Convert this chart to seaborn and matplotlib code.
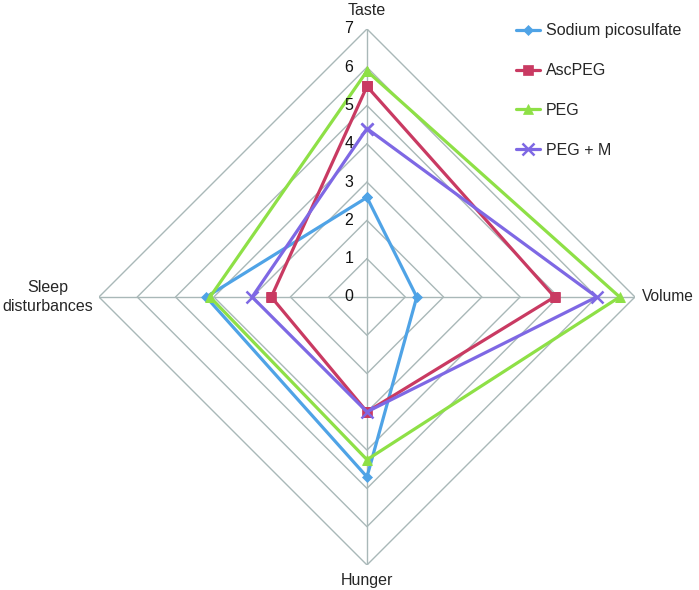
import numpy as np
import pandas as pd
import matplotlib
matplotlib.use("Agg")
import matplotlib.pyplot as plt
import seaborn as sns

categories = ["Taste", "Volume", "Hunger", "Sleep\ndisturbances"]
series_names = ["Sodium picosulfate", "AscPEG", "PEG", "PEG + M"]
sodium_picosulfate = [2.6, 1.3, 4.7, 4.2]
ascpeg = [5.5, 4.9, 3.0, 2.5]
peg = [5.9, 6.6, 4.25, 4.1]
peg_m = [4.4, 6.0, 3.0, 3.0]
r_ticks = [0, 1, 2, 3, 4, 5, 6, 7]

colors = ["#4FA3E6", "#C93A62", "#8EE046", "#7E68E4"]
markers = ["D", "s", "^", "x"]
msizes = [5.5, 7.5, 7, 8]

sns.set_theme(style="white")
plt.rcParams["font.family"] = ["Liberation Sans", "DejaVu Sans"]

n = len(categories)
angles = list(np.linspace(0, 2 * np.pi, n, endpoint=False))
angles_closed = angles + [2 * np.pi]

rows = []
for name, vals in zip(series_names, [sodium_picosulfate, ascpeg, peg, peg_m]):
    for a, v in zip(angles_closed, vals + vals[:1]):
        rows.append({"theta": a, "value": v, "series": name})
df = pd.DataFrame(rows)

fig = plt.figure(figsize=(6.99, 5.90), dpi=100)
ax = fig.add_axes([0.1416, 0.0424, 0.7668, 0.9085], projection="polar")
ax.set_theta_offset(np.pi / 2)
ax.set_theta_direction(-1)
ax.grid(False)
ax.spines["polar"].set_visible(False)

grid_color = "#A9B8B8"
for r in r_ticks[1:]:
    ax.plot(angles_closed, [r] * len(angles_closed), color=grid_color, lw=1.0, zorder=1)
for a in angles:
    ax.plot([a, a], [0, 7], color=grid_color, lw=1.0, zorder=1)

handles = []
for name, c, m, ms in zip(series_names, colors, markers, msizes):
    sub = df[df["series"] == name]
    sns.lineplot(data=sub, x="theta", y="value", sort=False, estimator=None,
                 color=c, lw=2.3, marker=m, markersize=ms,
                 markeredgecolor=c, markerfacecolor=c,
                 markeredgewidth=(1.8 if m == "x" else 0.5),
                 ax=ax, zorder=3)
    handles.append(ax.get_lines()[-1])

ax.set_ylim(0, 7)
ax.set_xticks([])
ax.set_yticks([])
ax.set_xlabel("")
ax.set_ylabel("")

for r in r_ticks:
    ax.annotate(str(r), xy=(0, r), xytext=(-13, 0), textcoords="offset points",
                ha="center", va="center", fontsize=11.5, color="#111111")

ax.annotate(categories[0], xy=(angles[0], 7), xytext=(0, 13), textcoords="offset points",
            ha="center", va="center", fontsize=11.5)
ax.annotate(categories[1], xy=(angles[1], 7), xytext=(5, 0), textcoords="offset points",
            ha="left", va="center", fontsize=11.2)
ax.annotate(categories[2], xy=(angles[2], 7), xytext=(0, -6), textcoords="offset points",
            ha="center", va="top", fontsize=11.5)
ax.annotate(categories[3], xy=(angles[3], 7), xytext=(-4, 0), textcoords="offset points",
            ha="right", va="center", fontsize=11.5, multialignment="center",
            linespacing=1.3)

fig.legend(handles, series_names, loc="upper left", bbox_to_anchor=(0.717, 0.985),
           frameon=False, fontsize=11.5, labelspacing=1.56, handlelength=1.5,
           handletextpad=0.4)

fig.savefig("out.png", dpi=100)
